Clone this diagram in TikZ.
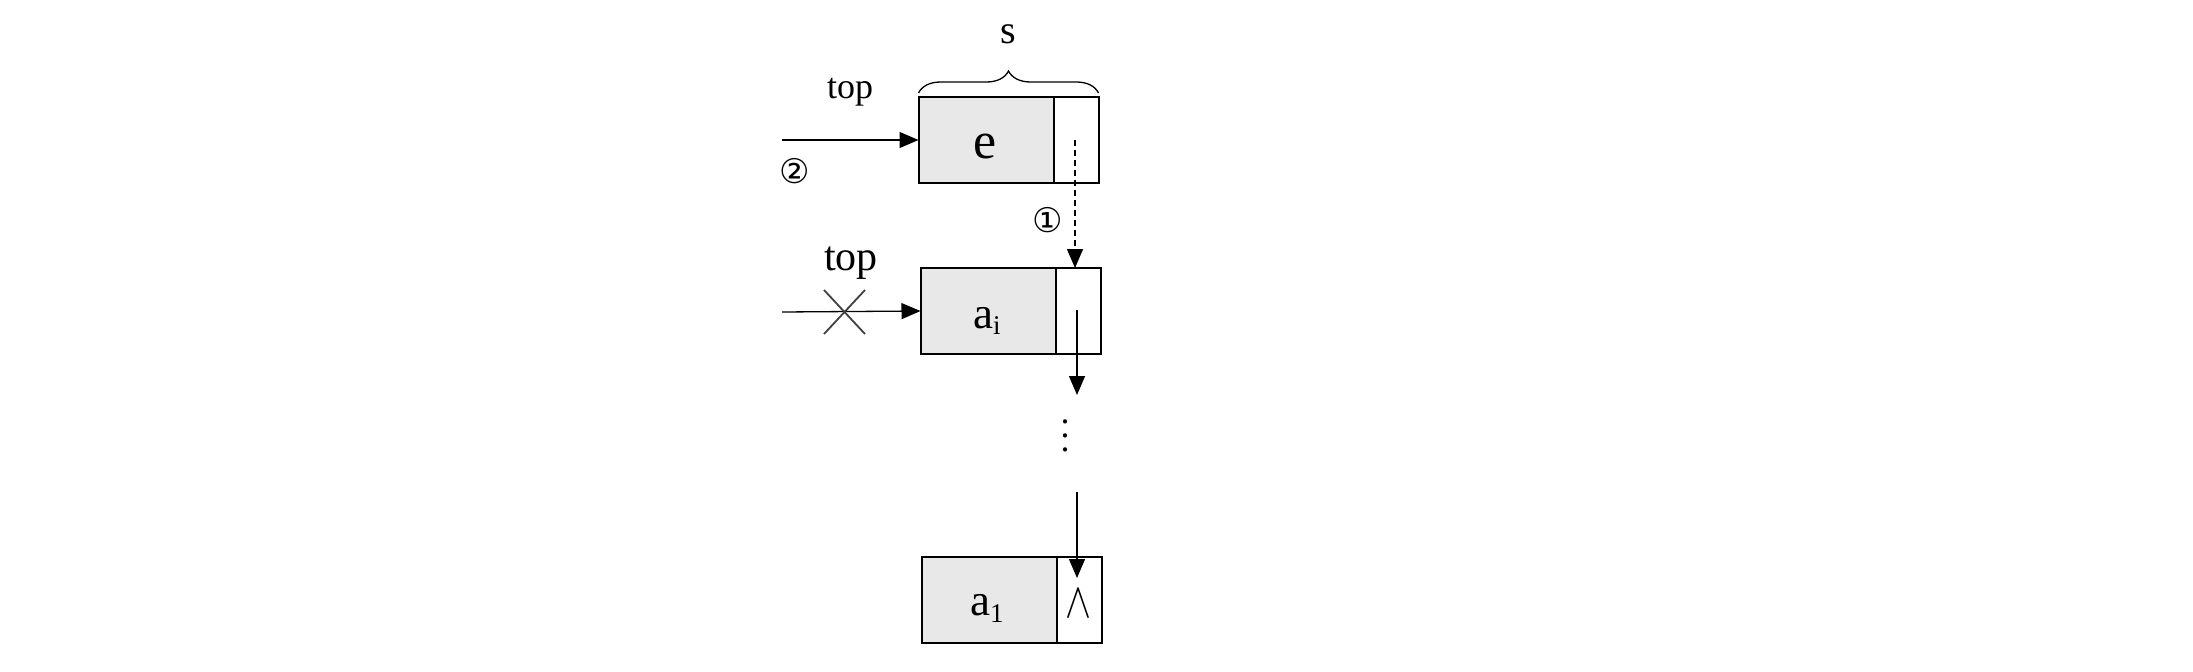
\documentclass[tikz,border=0pt]{standalone}
\usepackage{fontspec}
\setmainfont{Liberation Serif}
\newfontfamily\dv{DejaVu Sans}
\usetikzlibrary{arrows.meta,decorations.pathreplacing}
\begin{document}
\begin{tikzpicture}[x=1pt,y=-1pt,
  datab/.style={draw=black,line width=2pt,fill=black!9,minimum width=135pt,minimum height=86pt,inner sep=0pt,outer sep=0pt},
  ptrb/.style={draw=black,line width=2pt,fill=white,minimum width=45pt,minimum height=86pt,inner sep=0pt,outer sep=0pt},
  arr/.style={line width=1.3pt,-{Triangle[length=19pt,width=16pt]}},
  lbl/.style={inner sep=0pt},
  bl/.style={inner sep=0pt,anchor=base}]
\useasboundingbox (0,0) rectangle (2193,672);
% boxes
\node[datab] (e) at (986,140) {};
\node[ptrb,anchor=west] (ep) at (e.east) {};
\node[datab] (ai) at (988,311) {};
\node[ptrb,anchor=west] (aip) at (ai.east) {};
\node[datab] (a1) at (989,600) {};
\node[ptrb,anchor=west] (a1p) at (a1.east) {};
% texts in boxes
\node[bl] (te) at (985,158) {\fontsize{52}{52}\selectfont e};
\node[bl] (tai) at (987,328) {\fontsize{45}{45}\selectfont a\raisebox{-6pt}{\fontsize{27}{27}\selectfont i}};
\node[bl] (ta1) at (987,615) {\fontsize{45}{45}\selectfont a\raisebox{-7pt}{\fontsize{27}{27}\selectfont 1}};
\node[lbl,xscale=3.9,yscale=5] (nul) at (1078,604) {$\wedge$};
% brace and labels
\draw[line width=1.3pt,decorate,decoration={brace,amplitude=22pt}] (e.north west |- 0,93) -- (ep.north east |- 0,93);
\node[lbl] (s) at (1008,34) {\fontsize{40}{40}\selectfont s};
\node[lbl] (top1) at (850,92) {\fontsize{36}{36}\selectfont top};
\node[lbl] (top2) at (851,263) {\fontsize{42}{42}\selectfont top};
\node[lbl] (n2) at (795,171) {\dv\fontsize{34}{34}\selectfont ②};
\node[lbl] (n1) at (1048,220) {\dv\fontsize{34}{34}\selectfont ①};
% arrows
\coordinate (s2) at (782,140);
\draw[arr] (s2) -- (e.west);
\coordinate (s1) at (782,312);
\draw[arr] (s1) -- (ai.west);
\draw[black!75,line width=1.8pt] (824,290) -- (865,334) (824,334) -- (865,290);
\coordinate (d0) at (1075,140);
\draw[arr,dashed,dash pattern=on 6pt off 4pt] (d0) -- (1075,268);
\coordinate (p0) at (1077,310);
\coordinate (p1) at (1077,395);
\draw[arr] (p0) -- (p1);
\node[lbl,scale=3.6] (dots) at (1065,425) {$\vdots$};
\coordinate (q0) at (1077,492);
\coordinate (q1) at (1077,578);
\draw[arr] (q0) -- (q1);
\end{tikzpicture}
\end{document}
